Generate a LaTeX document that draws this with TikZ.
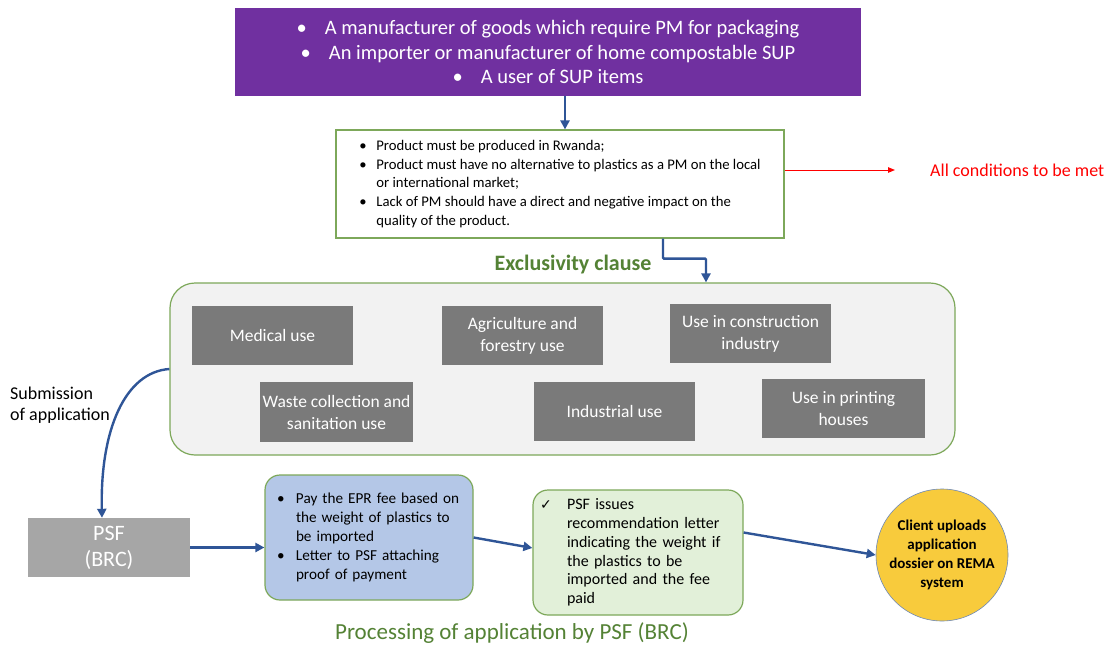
\documentclass[tikz,border=0pt]{standalone}
\usepackage{fontspec}
\setmainfont{Carlito}
\newfontfamily\symfont{DejaVu Sans}
\usetikzlibrary{arrows.meta,positioning,calc}

\definecolor{purplebox}{HTML}{7030A0}
\definecolor{flowblue}{HTML}{2F5597}
\definecolor{edgegreen}{HTML}{7DA85A}
\definecolor{titlegreen}{HTML}{548235}
\definecolor{usegray}{HTML}{7A7A7A}
\definecolor{psfgray}{HTML}{A6A6A6}
\definecolor{panelgray}{HTML}{F2F2F2}
\definecolor{paybg}{HTML}{B4C7E7}
\definecolor{recbg}{HTML}{E2F0D9}
\definecolor{clientbg}{HTML}{F8CB3C}

\newcommand{\fs}[2]{\fontsize{#1}{#2}\selectfont}
\newcommand{\bul}{\makebox[17pt][l]{•}}
\newcommand{\ind}{\hspace*{17pt}}

\tikzset{
  flow/.style={draw=flowblue, line width=2.4pt, -{Triangle[length=9pt,width=9pt]}},
  usebox/.style={fill=usegray, text=white, minimum width=161pt, minimum height=59pt,
    align=center, inner sep=2pt, font=\fs{17.5}{22}},
  softbox/.style={draw=edgegreen, line width=1.2pt, rounded corners=15pt, align=left,
    inner ysep=0pt, minimum width=208pt, minimum height=125pt},
}

\begin{document}
\begin{tikzpicture}[x=1pt,y=-1pt]
\useasboundingbox[fill=white] (0,0) rectangle (1109,648);

% who is concerned
\node[fill=purplebox, text=white, minimum width=626pt, minimum height=88pt,
  align=center, font=\fs{20.5}{24.5}] (top) at (548,52)
  {•\hspace{18pt}A manufacturer of goods which require PM for packaging\\
   •\hspace{18pt}An importer or manufacturer of home compostable SUP\\
   •\hspace{18pt}A user of SUP items};

% conditions
\node[draw=edgegreen, line width=1.2pt, fill=white, minimum width=448pt, minimum height=108pt,
  align=left, font=\fs{14.7}{18.9}, inner sep=0pt] (cond) at (560,184)
  {\bul Product must be produced in Rwanda;\\
   \bul Product must have no alternative to plastics as a PM on the local\\
   \ind or international market;\\
   \bul Lack of PM should have a direct and negative impact on the\\
   \ind quality of the product.};

\node[text=red, font=\fs{18}{20}, anchor=west, inner sep=0pt] (met) at (930,170) {All conditions to be met};

\draw[flow] (top.south -| 565,0) -- (cond.north -| 565,0);
\draw[draw=red, line width=1pt, -{Triangle[length=7pt,width=5.5pt]}]
  (cond.east |- met.west) -- ([xshift=-35pt]met.west);

% exclusivity clause
\node[text=titlegreen, font=\bfseries\fs{22}{24}] (exlabel) at (573,265) {Exclusivity clause};

\node[draw=edgegreen, line width=1.2pt, fill=panelgray, rounded corners=25pt,
  minimum width=785pt, minimum height=172pt] (excl) at (562.5,369) {};

\draw[flow, rounded corners=1pt] ([xshift=103pt]cond.south) -- ++(0,20) -| ([xshift=143.5pt]excl.north);

\node[usebox] (medical) at (272.5,335.5) {Medical use};
\node[usebox] (agri) at (522.5,335.5) {Agriculture and\\forestry use};
\node[usebox] (constr) at (750.5,333.5) {Use in construction\\industry};
\node[usebox, minimum width=153pt, minimum height=60pt] (waste) at (336.5,412) {Waste collection and\\sanitation use};
\node[usebox] (indus) at (614.5,411.5) {Industrial use};
\node[usebox, minimum width=163pt] (print) at (843.5,408.5) {Use in printing\\houses};

% submission
\node[align=left, font=\fs{18}{21}, anchor=west, inner sep=0pt] (sub) at (10,405) {Submission\\of application};

\node[fill=psfgray, text=white, minimum width=162pt, minimum height=59pt,
  align=center, font=\fs{22}{26}] (psf) at (109,547.5) {PSF\\(BRC)};

\draw[flow] (excl.west) .. controls (125,372) and (100,430) .. ([xshift=-7pt]psf.north);

% processing by PSF
\node[softbox, fill=paybg, text width=190pt, inner xsep=9pt, font=\fs{15.2}{19.2}] (pay) at (369,537.5)
  {\hspace*{3pt}\makebox[19pt][l]{•}Pay the EPR fee based on\\
   \hspace*{22pt}the weight of plastics to\\
   \hspace*{22pt}be imported\\
   \hspace*{3pt}\makebox[19pt][l]{•}Letter to PSF attaching\\
   \hspace*{22pt}proof of payment};

\node[softbox, fill=recbg, minimum width=210pt, text width=196pt, inner xsep=7pt, font=\fs{16}{18.7}] (rec) at (638,552.5)
  {\makebox[27pt][l]{\symfont\fs{14}{18.7}✓}PSF issues\\
   \hspace*{27pt}recommendation letter\\
   \hspace*{27pt}indicating the weight if\\
   \hspace*{27pt}the plastics to be\\
   \hspace*{27pt}imported and the fee\\
   \hspace*{27pt}paid};

\node[circle, draw=flowblue!70, line width=0.6pt, fill=clientbg, minimum size=132pt,
  align=center, inner sep=0pt, font=\bfseries\fs{15}{19}] (client) at (942,555)
  {Client uploads\\application\\dossier on REMA\\system};

\draw[flow] (psf.east) -- (pay.west |- psf.east);
\draw[flow] (pay.east) -- ([yshift=4.5pt]rec.west);
\draw[flow] ([yshift=20pt]rec.east) -- (client.west);

\node[text=titlegreen, font=\fs{23}{26}] (proclabel) at (512,633) {Processing of application by PSF (BRC)};
\end{tikzpicture}
\end{document}
